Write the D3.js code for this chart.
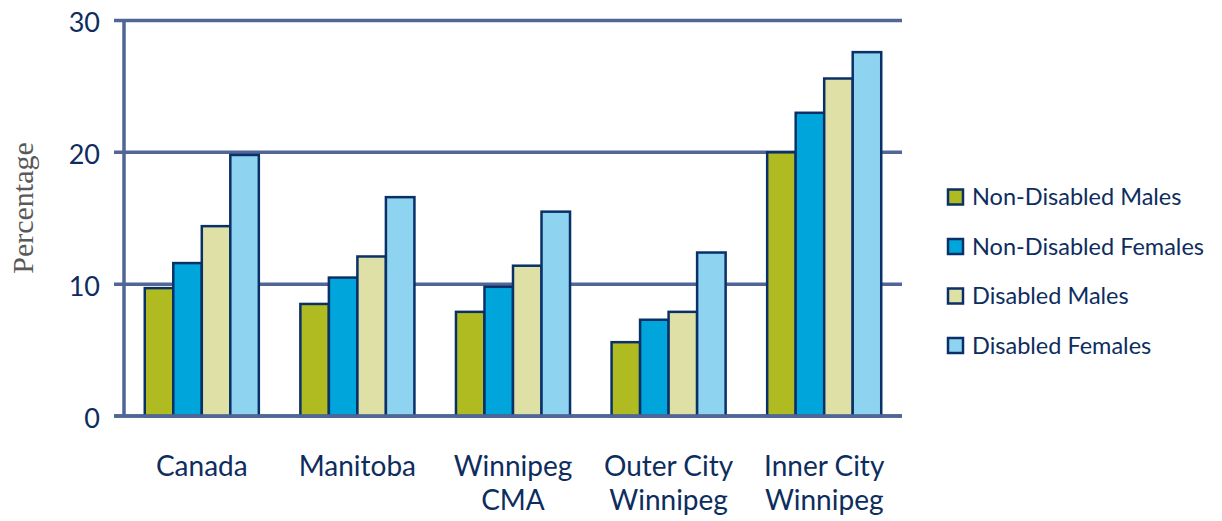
<!DOCTYPE html>
<html><head><meta charset="utf-8">
<script src="https://cdn.jsdelivr.net/npm/d3@7"></script>
<style>body{margin:0;background:#fff}svg{display:block}</style>
</head><body>
<svg id="c" width="1222" height="521"></svg>
<script>
const categories = [["Canada"],["Manitoba"],["Winnipeg","CMA"],["Outer City","Winnipeg"],["Inner City","Winnipeg"]];
const seriesNames = ["Non-Disabled Males","Non-Disabled Females","Disabled Males","Disabled Females"];
const nonDisabledMales   = [9.7, 8.5, 7.9, 5.6, 20.0];
const nonDisabledFemales = [11.6, 10.5, 9.8, 7.3, 23.0];
const disabledMales      = [14.4, 12.1, 11.4, 7.9, 25.6];
const disabledFemales    = [19.8, 16.6, 15.5, 12.4, 27.6];
const yTicks = [0, 10, 20, 30];
const colors = ["#afbb21","#00a6db","#dfe0a5","#8ed3ef"];
const series = [nonDisabledMales, nonDisabledFemales, disabledMales, disabledFemales];

const svg = d3.select("#c");
const mLeft = 124, mRight = 902, mTop = 20.5, mBottom = 416;
const catKeys = categories.map(c => c.join(" "));
const x0 = d3.scaleBand().domain(catKeys).range([mLeft, mRight]).paddingInner(0.267).paddingOuter(0.1335);
const x1 = d3.scaleBand().domain(seriesNames).range([0, x0.bandwidth()]);
const y = d3.scaleLinear().domain([0, 30]).range([mBottom, mTop]);
const gridColor = "#4f6696";
const textColor = "#0d2d5e";
const font = "Lato, 'Open Sans', sans-serif";

// gridlines
svg.append("g").selectAll("line").data(yTicks).join("line")
  .attr("x1", mLeft - 10).attr("x2", mRight)
  .attr("y1", d => y(d)).attr("y2", d => y(d))
  .attr("stroke", gridColor).attr("stroke-width", 3.5);
// y axis line
svg.append("line").attr("x1", mLeft).attr("x2", mLeft).attr("y1", mTop).attr("y2", mBottom)
  .attr("stroke", gridColor).attr("stroke-width", 3.5);
// tick labels
svg.append("g").selectAll("text").data(yTicks).join("text")
  .attr("x", 100).attr("y", d => y(d) + 2).attr("dy", "0.36em")
  .attr("text-anchor", "end").attr("fill", textColor)
  .attr("font-family", font).attr("font-size", 27).text(d => d);

// bars
const g = svg.append("g");
catKeys.forEach((k, i) => {
  series.forEach((s, j) => {
    g.append("rect")
      .attr("x", x0(k) + x1(seriesNames[j]))
      .attr("y", y(s[i]))
      .attr("width", x1.bandwidth())
      .attr("height", y(0) - y(s[i]))
      .attr("fill", colors[j])
      .attr("stroke", "#0a3068").attr("stroke-width", 2.5);
  });
});
// redraw baseline on top
svg.append("line").attr("x1", mLeft - 10).attr("x2", mRight).attr("y1", y(0)).attr("y2", y(0))
  .attr("stroke", gridColor).attr("stroke-width", 3.5);

// category labels
categories.forEach((c, i) => {
  const t = svg.append("text").attr("text-anchor", "middle").attr("fill", textColor)
    .attr("font-family", font).attr("font-size", 28);
  c.forEach((line, li) => {
    t.append("tspan").attr("x", x0(catKeys[i]) + x0.bandwidth() / 2)
      .attr("y", 476 + li * 34).text(line);
  });
});

// y title
svg.append("text").attr("transform", "translate(33,208) rotate(-90)")
  .attr("text-anchor", "middle").attr("fill", "#595959")
  .attr("font-family", "'Liberation Serif', 'Times New Roman', serif").attr("font-size", 30)
  .text("Percentage");

// legend
const lg = svg.append("g");
seriesNames.forEach((n, j) => {
  const cy = 197 + j * 49.5;
  lg.append("rect").attr("x", 948).attr("y", cy - 7.5).attr("width", 15).attr("height", 15)
    .attr("fill", colors[j]).attr("stroke", "#0a3068").attr("stroke-width", 2.5);
  lg.append("text").attr("x", 972).attr("y", cy).attr("dy", "0.36em")
    .attr("fill", textColor).attr("font-family", font).attr("font-size", 23.5).text(n);
});
</script>
</body></html>
